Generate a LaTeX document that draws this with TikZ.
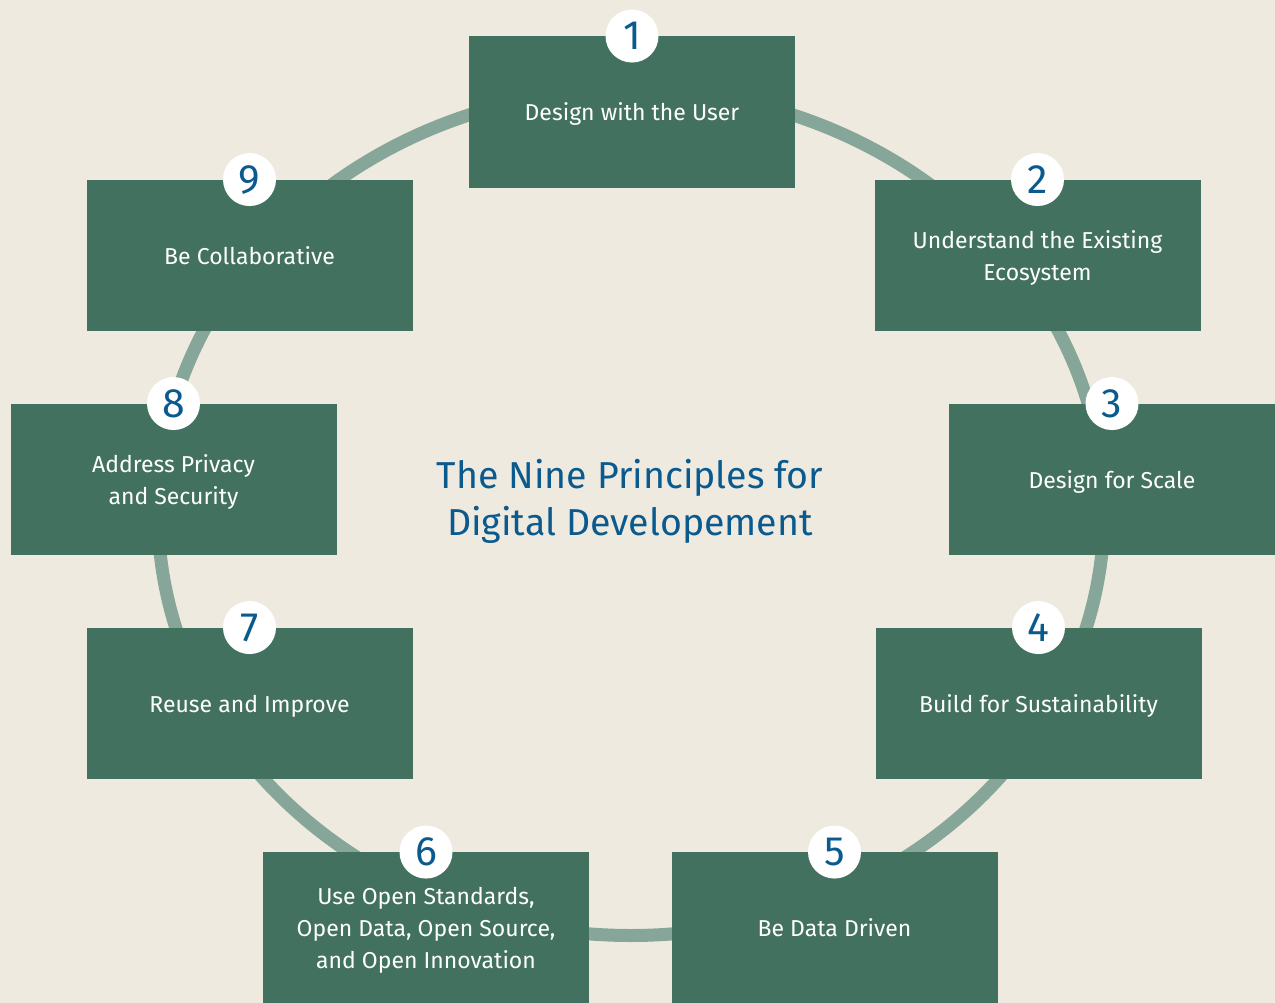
\documentclass[tikz,border=0pt]{standalone}
\usepackage{fontspec}
\setmainfont{Fira Sans}
\definecolor{bg}{HTML}{EEEAE0}
\definecolor{boxgreen}{HTML}{42725F}
\definecolor{ringcol}{HTML}{85A699}
\definecolor{numblue}{HTML}{0B5A8E}
\begin{document}
\begin{tikzpicture}[x=1pt,y=-1pt,
  principle/.style={fill=boxgreen, minimum width=326pt, minimum height=151.5pt, inner sep=0pt,
    text=white, text depth=0pt, font=\fontsize{23}{32}\selectfont, align=center},
  numdot/.style={circle, fill=white, minimum size=53pt, inner sep=0pt, text=numblue,
    font=\fontsize{41}{41}\selectfont},
  titletext/.style={text=numblue, font=\fontsize{37.5}{47}\selectfont, align=center}]
\fill[bg] (0,0) rectangle (1275,1003);
\useasboundingbox (0,0) rectangle (1275,1003);
\draw[ringcol, line width=13pt] (631,512.5) ellipse [x radius=473pt, y radius=423pt];
\node[principle] (p1) at (632,112) {Design with the User};
\node[principle] (p2) at (1037.5,255.5) {Understand the Existing\\Ecosystem};
\node[principle] (p3) at (1112,479.5) {Design for Scale};
\node[principle] (p4) at (1038.5,703.5) {Build for Sustainability};
\node[principle] (p5) at (834.5,928) {Be Data Driven};
\node[principle] (p6) at (426,928) {Use Open Standards,\\Open Data, Open Source,\\and Open Innovation};
\node[principle] (p7) at (249.5,703.5) {Reuse and Improve};
\node[principle] (p8) at (173.5,479.5) {Address Privacy\\and Security};
\node[principle] (p9) at (249.5,255.5) {Be Collaborative};
\foreach \i in {1,...,9} {
  \node[numdot] (n\i) at (p\i.north) {\i};
}
\node[titletext] (title) at (630,501) {The Nine Principles for\\Digital Developement};
\end{tikzpicture}
\end{document}
